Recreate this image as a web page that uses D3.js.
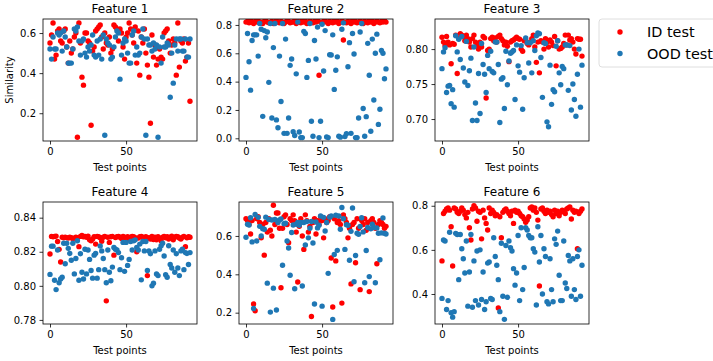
<!DOCTYPE html>
<html>
<head>
<meta charset="utf-8">
<script src="https://cdn.jsdelivr.net/npm/d3@7"></script>
<style>
  body { margin: 0; background: #fff; }
  svg { display: block; font-family: "DejaVu Sans", sans-serif; }
</style>
</head>
<body>
<div id="canvas"></div>
<script>
// similarity per test point, ID (red) and OOD (blue), one pair per feature
var id1 = [0.55,0.59,0.65,0.47,0.49,0.61,0.62,0.56,0.55,0.61,0.62,0.53,0.45,0.56,0.50,0.52,0.58,0.60,0.08,0.65,0.55,0.38,0.34,0.60,0.60,0.56,0.55,0.14,0.51,0.53,0.61,0.62,0.63,0.64,0.58,0.52,0.60,0.55,0.54,0.58,0.50,0.52,0.64,0.63,0.62,0.56,0.62,0.60,0.53,0.47,0.58,0.60,0.65,0.62,0.59,0.55,0.63,0.45,0.61,0.39,0.58,0.55,0.62,0.50,0.44,0.38,0.15,0.59,0.48,0.54,0.44,0.47,0.52,0.48,0.47,0.60,0.61,0.62,0.56,0.50,0.54,0.57,0.55,0.39,0.65,0.43,0.56,0.55,0.57,0.46,0.48,0.55,0.26];
var ood1 = [0.52,0.47,0.58,0.52,0.52,0.60,0.59,0.60,0.51,0.61,0.58,0.53,0.45,0.45,0.45,0.52,0.62,0.61,0.63,0.56,0.49,0.56,0.57,0.50,0.48,0.53,0.51,0.54,0.59,0.49,0.48,0.56,0.49,0.57,0.47,0.59,0.09,0.57,0.55,0.54,0.47,0.48,0.53,0.58,0.61,0.60,0.37,0.49,0.55,0.57,0.56,0.50,0.45,0.45,0.59,0.61,0.49,0.53,0.49,0.50,0.58,0.62,0.57,0.09,0.57,0.54,0.54,0.51,0.55,0.52,0.54,0.08,0.53,0.45,0.58,0.53,0.53,0.55,0.54,0.28,0.50,0.35,0.54,0.57,0.51,0.57,0.57,0.51,0.51,0.57,0.48,0.48,0.57];

var id2 = [0.82,0.825,0.815,0.83,0.82,0.81,0.825,0.82,0.83,0.815,0.82,0.81,0.825,0.83,0.82,0.815,0.82,0.825,0.81,0.82,0.83,0.82,0.815,0.825,0.82,0.81,0.82,0.83,0.825,0.815,0.82,0.82,0.83,0.81,0.825,0.82,0.815,0.83,0.82,0.825,0.81,0.82,0.83,0.82,0.815,0.825,0.82,0.83,0.445,0.82,0.815,0.825,0.83,0.82,0.81,0.825,0.82,0.815,0.83,0.82,0.825,0.81,0.82,0.83,0.694,0.82,0.815,0.825,0.82,0.81,0.83,0.82,0.825,0.815,0.82,0.83,0.82,0.81,0.825,0.82,0.815,0.83,0.82,0.825,0.81,0.82,0.83,0.82,0.815,0.825,0.82,0.83,0.82];
var ood2 = [0.43,0.74,0.54,0.34,0.69,0.73,0.73,0.73,0.58,0.81,0.77,0.155,0.76,0.71,0.75,0.395,0.81,0.143,0.64,0.81,0.13,0.075,0.58,0.26,0.81,0.035,0.70,0.035,0.143,0.515,0.56,0.046,0.02,0.455,0.82,0.045,0.005,0.005,0.755,0.74,0.43,0.55,0.81,0.12,0.015,0.69,0.56,0.785,0.005,0.12,0.805,0.475,0.76,0.01,0.005,0.59,0.588,0.73,0.345,0.48,0.575,0.015,0.008,0.77,0.815,0.012,0.033,0.505,0.675,0.035,0.74,0.595,0.005,0.005,0.143,0.75,0.81,0.21,0.015,0.153,0.67,0.445,0.05,0.70,0.27,0.60,0.735,0.098,0.205,0.62,0.60,0.42,0.49];

var id3 = [0.817,0.81,0.805,0.818,0.81,0.806,0.779,0.808,0.807,0.82,0.765,0.815,0.822,0.82,0.818,0.812,0.82,0.815,0.81,0.803,0.815,0.82,0.81,0.805,0.80,0.81,0.803,0.818,0.816,0.730,0.798,0.80,0.815,0.817,0.812,0.816,0.81,0.818,0.82,0.815,0.812,0.806,0.81,0.804,0.782,0.81,0.812,0.813,0.815,0.817,0.815,0.814,0.80,0.797,0.812,0.813,0.808,0.806,0.81,0.815,0.82,0.803,0.781,0.81,0.766,0.812,0.81,0.80,0.815,0.81,0.803,0.813,0.81,0.805,0.818,0.776,0.812,0.80,0.801,0.803,0.808,0.82,0.806,0.82,0.813,0.815,0.81,0.80,0.793,0.815,0.814,0.814,0.79];
var ood3 = [0.772,0.796,0.802,0.738,0.747,0.748,0.722,0.742,0.717,0.819,0.796,0.814,0.785,0.818,0.773,0.753,0.811,0.748,0.769,0.787,0.698,0.803,0.723,0.698,0.765,0.708,0.808,0.778,0.764,0.738,0.791,0.772,0.797,0.768,0.766,0.81,0.81,0.778,0.695,0.757,0.759,0.715,0.797,0.749,0.783,0.794,0.796,0.798,0.728,0.806,0.776,0.767,0.805,0.714,0.759,0.816,0.809,0.78,0.809,0.766,0.812,0.798,0.819,0.823,0.822,0.788,0.731,0.809,0.808,0.696,0.689,0.777,0.721,0.742,0.739,0.804,0.812,0.766,0.749,0.775,0.772,0.806,0.806,0.741,0.805,0.713,0.75,0.728,0.704,0.764,0.80,0.717,0.777];

var id4 = [0.8187,0.829,0.8288,0.829,0.8292,0.826,0.8214,0.814,0.8285,0.8282,0.8285,0.8283,0.828,0.8285,0.8282,0.8278,0.828,0.8285,0.8282,0.823,0.829,0.8295,0.8288,0.829,0.8285,0.8292,0.827,0.8265,0.8275,0.8288,0.8245,0.829,0.8288,0.8282,0.8262,0.8285,0.829,0.7912,0.8285,0.8255,0.8288,0.829,0.818,0.8283,0.8288,0.829,0.8285,0.8278,0.829,0.8285,0.8282,0.8288,0.8275,0.8285,0.829,0.8288,0.8283,0.82,0.828,0.8288,0.829,0.8285,0.8275,0.8288,0.806,0.8282,0.8275,0.829,0.8272,0.8285,0.827,0.8288,0.8278,0.8265,0.8285,0.829,0.8282,0.8288,0.8275,0.8285,0.8292,0.827,0.8285,0.829,0.8288,0.828,0.8275,0.8285,0.829,0.823,0.8282,0.8288,0.8285];
var ood4 = [0.8067,0.8233,0.8233,0.8033,0.7978,0.821,0.8018,0.804,0.805,0.825,0.813,0.825,0.822,0.819,0.815,0.825,0.807,0.816,0.8265,0.8033,0.8188,0.808,0.804,0.8215,0.807,0.821,0.8155,0.809,0.8045,0.818,0.819,0.8045,0.8095,0.8234,0.8205,0.816,0.8095,0.8018,0.821,0.808,0.803,0.811,0.8225,0.8215,0.821,0.8195,0.8095,0.8165,0.8255,0.8085,0.8255,0.812,0.8155,0.826,0.821,0.8265,0.827,0.8225,0.821,0.8245,0.8035,0.826,0.8205,0.826,0.809,0.8205,0.8188,0.80,0.8015,0.8205,0.807,0.806,0.8215,0.8235,0.825,0.8175,0.8065,0.805,0.8235,0.8125,0.8105,0.821,0.808,0.8188,0.8105,0.806,0.8205,0.8215,0.8095,0.8195,0.819,0.8125,0.8195];

var id5 = [0.69,0.68,0.66,0.61,0.68,0.245,0.21,0.69,0.70,0.67,0.59,0.66,0.50,0.67,0.62,0.69,0.63,0.60,0.76,0.66,0.72,0.72,0.64,0.33,0.64,0.70,0.71,0.66,0.565,0.69,0.68,0.71,0.68,0.62,0.36,0.65,0.69,0.60,0.53,0.71,0.68,0.62,0.65,0.18,0.67,0.69,0.61,0.68,0.66,0.70,0.68,0.59,0.69,0.67,0.68,0.70,0.485,0.23,0.69,0.47,0.67,0.68,0.66,0.25,0.71,0.69,0.67,0.59,0.64,0.35,0.66,0.67,0.46,0.69,0.64,0.32,0.68,0.66,0.69,0.63,0.67,0.31,0.68,0.69,0.67,0.64,0.455,0.66,0.68,0.67,0.66,0.64,0.65];
var ood5 = [0.593,0.661,0.657,0.695,0.569,0.222,0.712,0.574,0.697,0.65,0.60,0.638,0.635,0.698,0.354,0.686,0.203,0.683,0.328,0.686,0.214,0.67,0.683,0.688,0.447,0.664,0.666,0.574,0.537,0.395,0.618,0.657,0.325,0.661,0.67,0.656,0.67,0.339,0.67,0.553,0.675,0.59,0.64,0.675,0.563,0.245,0.673,0.642,0.656,0.704,0.234,0.697,0.626,0.67,0.405,0.698,0.704,0.165,0.503,0.708,0.525,0.704,0.635,0.748,0.69,0.53,0.659,0.656,0.473,0.624,0.746,0.361,0.498,0.614,0.609,0.649,0.695,0.621,0.356,0.524,0.644,0.388,0.637,0.661,0.644,0.356,0.642,0.614,0.476,0.616,0.694,0.614,0.61];

var id6 = [0.55,0.765,0.775,0.785,0.79,0.78,0.705,0.527,0.79,0.785,0.77,0.765,0.775,0.79,0.78,0.76,0.745,0.77,0.70,0.645,0.785,0.80,0.79,0.73,0.775,0.77,0.65,0.78,0.745,0.72,0.69,0.79,0.765,0.78,0.77,0.755,0.76,0.337,0.75,0.655,0.77,0.78,0.785,0.775,0.765,0.755,0.775,0.72,0.78,0.77,0.775,0.765,0.755,0.75,0.74,0.725,0.735,0.75,0.79,0.795,0.78,0.79,0.77,0.735,0.436,0.785,0.79,0.775,0.765,0.78,0.77,0.775,0.76,0.75,0.78,0.765,0.775,0.755,0.77,0.78,0.775,0.765,0.785,0.79,0.795,0.74,0.78,0.77,0.775,0.605,0.765,0.775,0.785];
var ood6 = [0.38,0.645,0.64,0.33,0.37,0.68,0.315,0.295,0.32,0.675,0.67,0.465,0.67,0.605,0.56,0.495,0.64,0.345,0.50,0.67,0.34,0.55,0.37,0.595,0.35,0.60,0.375,0.50,0.33,0.365,0.54,0.545,0.38,0.375,0.655,0.57,0.53,0.465,0.32,0.63,0.39,0.285,0.62,0.385,0.64,0.61,0.595,0.515,0.44,0.495,0.665,0.37,0.70,0.42,0.52,0.70,0.69,0.665,0.655,0.655,0.605,0.59,0.35,0.705,0.545,0.665,0.40,0.605,0.57,0.365,0.355,0.56,0.42,0.365,0.65,0.625,0.685,0.485,0.37,0.37,0.64,0.45,0.425,0.575,0.55,0.39,0.56,0.42,0.375,0.57,0.60,0.39,0.53];

var titles = ['Feature 1', 'Feature 2', 'Feature 3', 'Feature 4', 'Feature 5', 'Feature 6'];
var idSeries = [id1, id2, id3, id4, id5, id6];
var oodSeries = [ood1, ood2, ood3, ood4, ood5, ood6];
var yTicks = [[0.2, 0.4, 0.6], [0.0, 0.2, 0.4, 0.6, 0.8], [0.70, 0.75, 0.80],
              [0.78, 0.80, 0.82, 0.84], [0.2, 0.4, 0.6], [0.4, 0.6, 0.8]];
var xTicks = [0, 50];
var legendLabels = ['ID test', 'OOD test'];

// axis view limits, as matplotlib autoscaled them
var yDomains = [[0.0615, 0.67], [-0.019, 0.842], [0.6686, 0.843],
                [0.7776, 0.8492], [0.141, 0.777], [0.264, 0.817]];
var yFormats = ['.1f', '.1f', '.2f', '.2f', '.1f', '.1f'];
var colors = {id: '#ff0000', ood: '#1f77b4'};

var W = 713, H = 361;
var pw = 154, ph = 122;
var lefts = [43, 239, 435], tops = [19, 202];
var dotR = 2.7; //s=20 plus 1pt face-coloured edge

var svg = d3.select('#canvas').append('svg').attr('width', W).attr('height', H);

titles.forEach(function(title, k){
    var px = lefts[k % 3], py = tops[Math.floor(k / 3)];
    var g = svg.append('g').attr('transform', 'translate(' + px + ',' + py + ')');

    var x = d3.scaleLinear().domain([-4.6, 96.6]).range([0, pw]);
    var y = d3.scaleLinear().domain(yDomains[k]).range([ph, 0]);

    g.append('clipPath').attr('id', 'clip' + k)
        .append('rect').attr('width', pw).attr('height', ph);
    var dots = g.append('g').attr('clip-path', 'url(#clip' + k + ')');

    //ID first, OOD drawn on top
    dots.selectAll('circle.id').data(idSeries[k]).enter().append('circle')
        .attr('class', 'id')
        .attr('cx', function(d, i){ return x(i); })
        .attr('cy', function(d){ return y(d); })
        .attr('r', dotR).attr('fill', colors.id);
    dots.selectAll('circle.ood').data(oodSeries[k]).enter().append('circle')
        .attr('class', 'ood')
        .attr('cx', function(d, i){ return x(i); })
        .attr('cy', function(d){ return y(d); })
        .attr('r', dotR).attr('fill', colors.ood);

    var xAxis = g.append('g').attr('transform', 'translate(0,' + ph + ')')
        .call(d3.axisBottom(x).tickValues(xTicks).tickSize(3.5).tickPadding(3.5).tickSizeOuter(0));
    var yAxis = g.append('g')
        .call(d3.axisLeft(y).tickValues(yTicks[k]).tickFormat(d3.format(yFormats[k])).tickSize(3.5).tickPadding(3.5).tickSizeOuter(0));
    [xAxis, yAxis].forEach(function(a){
        a.select('.domain').remove();
        a.selectAll('line').attr('stroke', '#000').attr('stroke-width', 0.8);
        a.selectAll('text').attr('fill', '#000').style('font-size', '10px')
            .style('font-family', '"DejaVu Sans", sans-serif');
    });

    g.append('rect').attr('width', pw).attr('height', ph)
        .attr('fill', 'none').attr('stroke', '#000').attr('stroke-width', 0.8);

    g.append('text').attr('x', pw / 2).attr('y', -6).attr('text-anchor', 'middle')
        .style('font-size', '12px').text(title);
    g.append('text').attr('x', pw / 2).attr('y', ph + 29.5).attr('text-anchor', 'middle')
        .style('font-size', '10px').text('Test points');
    if (k === 0) {
        g.append('text').attr('transform', 'translate(' + (12.5 - px) + ',' + (ph / 2) + ') rotate(-90)')
            .attr('text-anchor', 'middle').style('font-size', '10px').text('Similarity');
    }
});

// legend sits right of the grid and runs off the edge
var leg = svg.append('g').attr('transform', 'translate(599,19)');
leg.append('rect').attr('width', 130).attr('height', 48).attr('rx', 3)
    .attr('fill', '#fff').attr('fill-opacity', 0.8).attr('stroke', '#d6d6d6').attr('stroke-width', 0.8);
legendLabels.forEach(function(lab, i){
    leg.append('circle').attr('cx', 21).attr('cy', 13 + i * 21.5).attr('r', dotR)
        .attr('fill', i === 0 ? colors.id : colors.ood);
    leg.append('text').attr('x', 48).attr('y', 13 + i * 21.5 + 5.2)
        .style('font-size', '14.4px').text(lab);
});
</script>
</body>
</html>
